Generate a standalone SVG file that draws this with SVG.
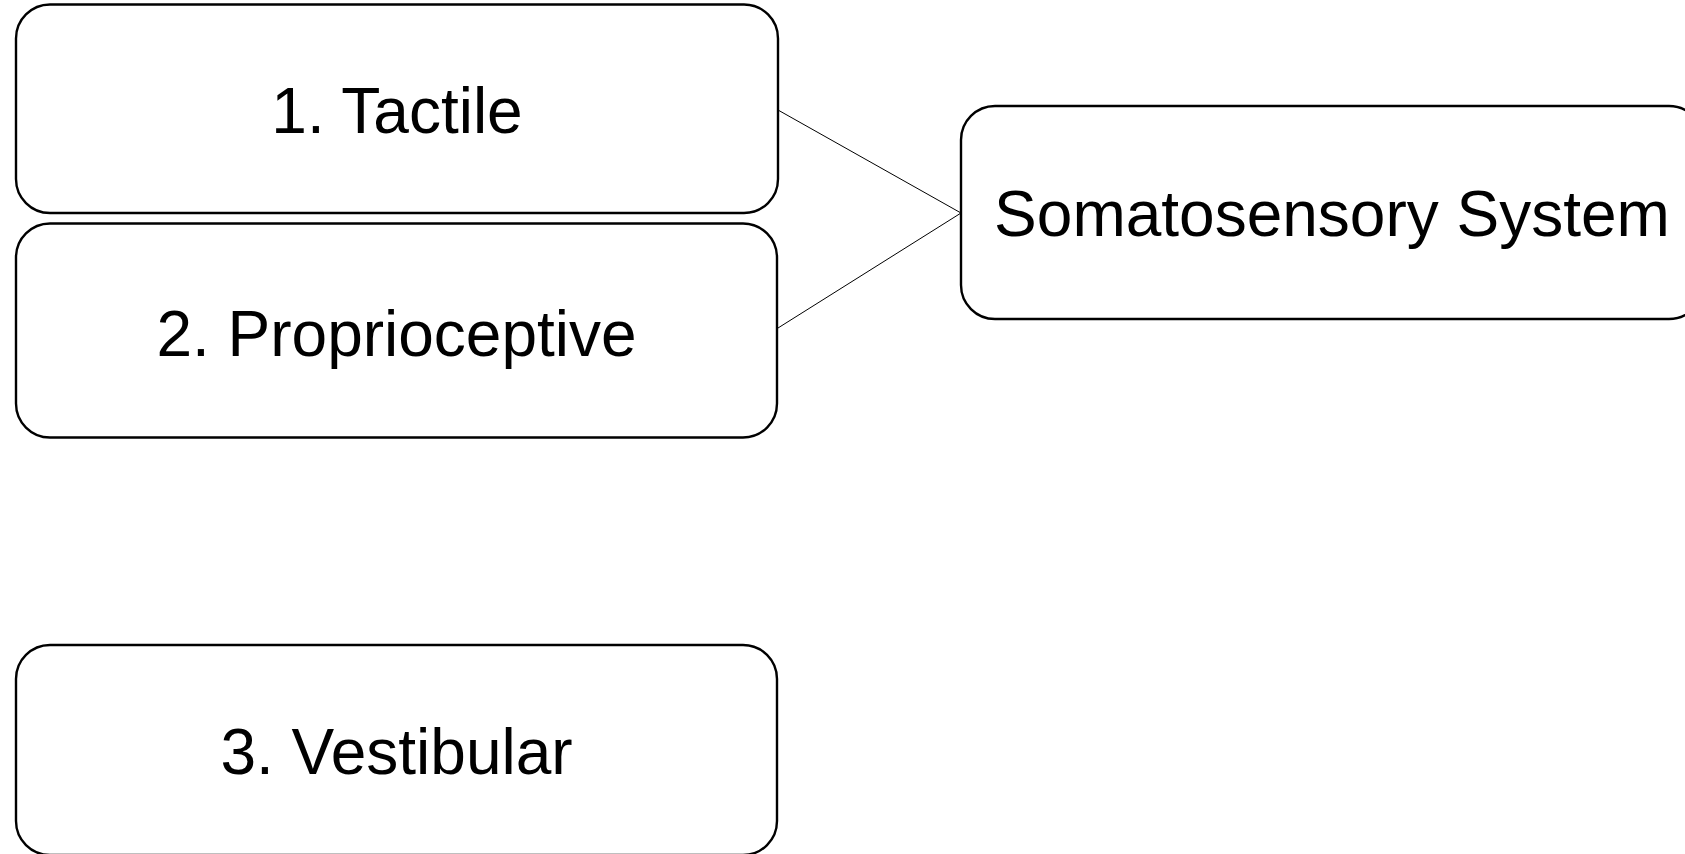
<svg xmlns="http://www.w3.org/2000/svg" width="1685" height="854" viewBox="0 0 1685 854">
<style>
.box{fill:#fff;stroke:#000;stroke-width:2.4}
.lbl{font-family:"Liberation Sans",Arial,sans-serif;font-size:64px;fill:#000;text-anchor:middle}
.conn{stroke:#000;stroke-width:1;fill:none}
</style>
<rect width="1685" height="854" fill="#fff"/>
<g id="connectors">
<line class="conn" x1="778" y1="110" x2="961" y2="213"/>
<line class="conn" x1="778" y1="328" x2="961" y2="213"/>
</g>
<g id="tactile">
<rect class="box" x="16" y="4.5" width="762" height="208.5" rx="34" ry="34"/>
<text class="lbl" x="397" y="133">1. Tactile</text>
</g>
<g id="proprioceptive">
<rect class="box" x="16" y="223.5" width="761" height="214" rx="34" ry="34"/>
<text class="lbl" x="396.5" y="355.5">2. Proprioceptive</text>
</g>
<g id="vestibular">
<rect class="box" x="16" y="645" width="761" height="210" rx="34" ry="34"/>
<text class="lbl" x="396.5" y="773.5">3. Vestibular</text>
</g>
<g id="somatosensory">
<rect class="box" x="961" y="106" width="742" height="213" rx="34" ry="34"/>
<text class="lbl" x="1332" y="235.5">Somatosensory System</text>
</g>
</svg>
